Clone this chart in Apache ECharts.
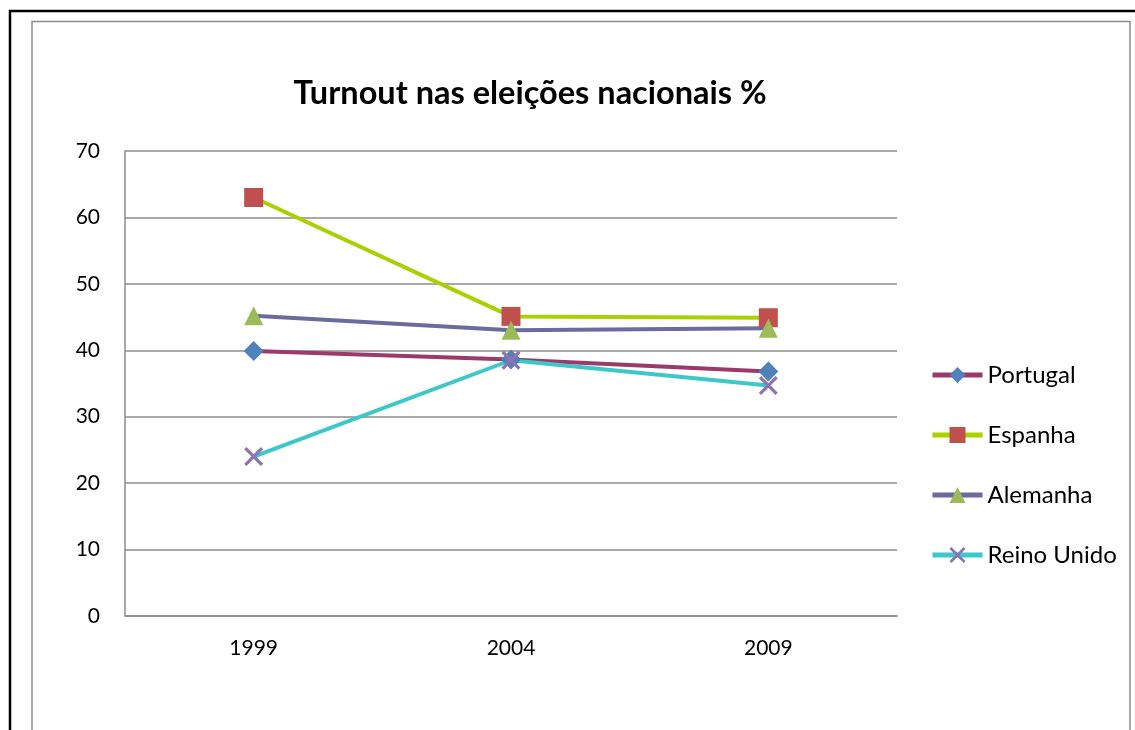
<!DOCTYPE html>
<html>
<head>
<meta charset="utf-8">
<script src="https://cdn.jsdelivr.net/npm/echarts@6/dist/echarts.min.js"></script>
<style>
  html, body { margin: 0; padding: 0; background: #fff; }
  #chart { width: 1135px; height: 730px; }
</style>
</head>
<body>
<div id="chart"></div>
<script>
const years = ['1999', '2004', '2009']
const portugal = [39.9, 38.6, 36.8]
const espanha = [63.0, 45.1, 44.9]
const alemanha = [45.2, 43.0, 43.3]
const reinoUnido = [24.0, 38.5, 34.7]

const FONT = 'Lato, "Open Sans", sans-serif'
// marcador em X desenhado como polígono
const X_SYMBOL = 'path://M0,1.2L1.2,0L10,8.8L8.8,10ZM8.8,0L10,1.2L1.2,10L0,8.8Z'

const chart = echarts.init(document.getElementById('chart'))

const mkSeries = (name, data, lineColor, markColor, symbol, size) => ({
  name,
  type: 'line',
  data,
  symbol,
  symbolSize: size,
  lineStyle: { width: 4, color: lineColor },
  itemStyle: { color: markColor, borderWidth: 0 },
  emphasis: { disabled: true },
  z: 3,
})

chart.setOption({
  animation: false,
  backgroundColor: '#fff',
  title: {
    text: 'Turnout nas eleições nacionais %',
    left: 525,
    top: 72,
    textAlign: 'center',
    textStyle: { fontFamily: FONT, fontSize: 32.5, fontWeight: 'bold', color: '#000' },
  },
  graphic: [
    { type: 'rect', shape: { x: 10, y: 11, width: 1140, height: 740 },
      style: { fill: 'none', stroke: '#000', lineWidth: 2.5 }, z: 1 },
    { type: 'rect', shape: { x: 32, y: 21.5, width: 1098, height: 720 },
      style: { fill: 'none', stroke: '#8c8c8c', lineWidth: 1.5 }, z: 1 },
  ],
  legend: {
    orient: 'vertical',
    left: 925,
    top: 357,
    itemWidth: 50,
    itemHeight: 20,
    itemGap: 34,
    lineStyle: { width: 5 },
    textStyle: { fontFamily: FONT, fontSize: 24, lineHeight: 26, color: '#000', padding: [0, 0, 0, 0] },
    data: ['Portugal', 'Espanha', 'Alemanha', 'Reino Unido'],
  },
  grid: { left: 125, top: 151, right: 238, bottom: 114 },
  xAxis: {
    type: 'category',
    data: years,
    boundaryGap: true,
    axisLine: { lineStyle: { color: '#8c8c8c', width: 1.5 } },
    axisTick: { show: false },
    axisLabel: { fontFamily: FONT, fontSize: 21, color: '#000', margin: 22 },
  },
  yAxis: {
    type: 'value',
    min: 0,
    max: 70,
    interval: 10,
    axisLine: { show: true, lineStyle: { color: '#8c8c8c', width: 1.5 } },
    axisTick: { show: false },
    axisLabel: { fontFamily: FONT, fontSize: 21, color: '#000', margin: 25 },
    splitLine: { lineStyle: { color: '#8c8c8c', width: 1.5 } },
  },
  series: [
    mkSeries('Portugal', portugal, '#993a6b', '#4f81bd', 'diamond', 20),
    mkSeries('Espanha', espanha, '#a9d000', '#c0504d', 'rect', 19),
    mkSeries('Alemanha', alemanha, '#6b6b9e', '#9bbb59', 'triangle', 19),
    mkSeries('Reino Unido', reinoUnido, '#3cc8c8', '#8e72b4', X_SYMBOL, 19),
  ],
})
</script>
</body>
</html>
